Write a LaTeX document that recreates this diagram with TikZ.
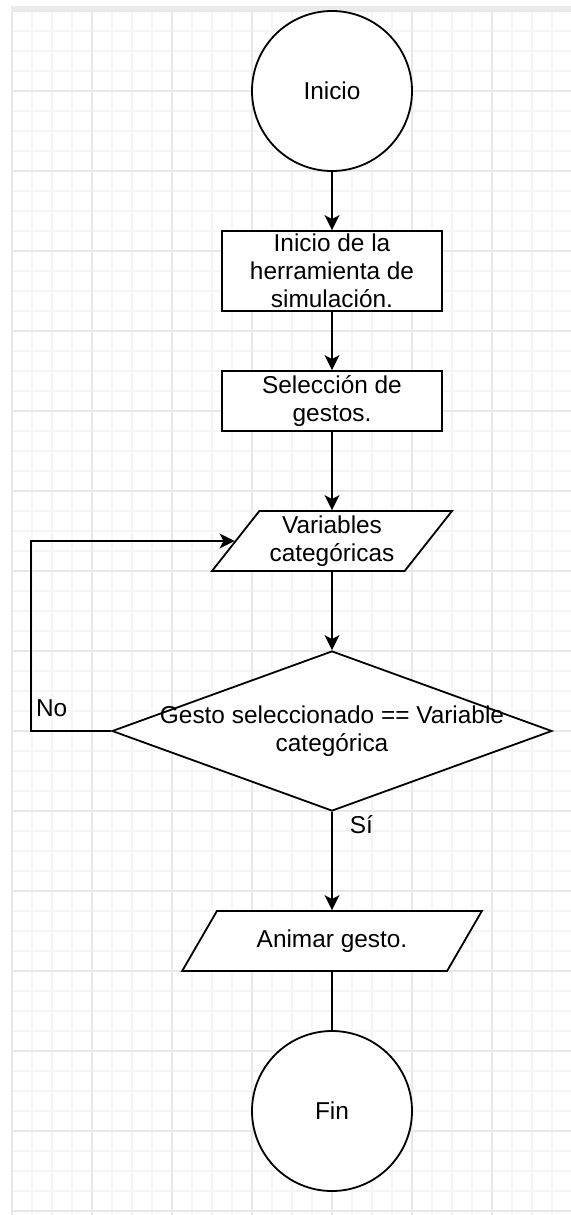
\documentclass[tikz,border=0pt]{standalone}
\usepackage{fontspec}
\setmainfont{Liberation Sans}
\usepackage{tikz}
\usepackage{xcolor}
\usetikzlibrary{arrows.meta,positioning,shapes.geometric}
\definecolor{gridminor}{HTML}{F5F5F5}
\definecolor{gridmajor}{HTML}{E8E8E8}
\definecolor{pageband}{HTML}{EBEBEB}

\begin{document}
\begin{tikzpicture}[x=0.5pt, y=-0.5pt, on grid, >={Stealth[length=7.5pt, width=7.5pt, inset=2pt]}, font=\fontsize{12.2}{14}\selectfont]
\tikzstyle{term}=[draw, circle, fill=white, line width=0.9pt, minimum size=80pt, inner sep=0pt]
\tikzstyle{box}=[draw, fill=white, line width=0.9pt, minimum width=110pt, align=center, inner sep=0pt]
\tikzstyle{io}=[draw, fill=white, line width=0.9pt, trapezium, trapezium stretches=true, minimum height=30pt, align=center, inner sep=0pt]
\tikzstyle{decision}=[draw, fill=white, line width=0.9pt, diamond, minimum width=220pt, minimum height=80pt, inner sep=0pt]
\tikzstyle{flow}=[line width=0.9pt]
% page and grid
\useasboundingbox (0,0) rectangle (571,1215);
\fill[white] (0,0) rectangle (571,1215);
\fill[pageband] (11,6) rectangle (571,10);
\begin{scope}[shift={(12,11)}]
\draw[gridminor, line width=0.7pt] (0,1204) grid[step=10pt] (560,0);
\draw[gridmajor, line width=0.8pt] (0,1204) grid[step=40pt] (560,0);
\end{scope}
% nodes
\node[term] (inicio) at (332,91) {Inicio};
\node[box, minimum height=40pt, below=90pt of inicio] (herr) {Inicio de la\\herramienta de\\simulación.};
\node[box, minimum height=30pt, below=65pt of herr] (selec) {Selección de\\gestos.};
\node[io, trapezium left angle=51.3, trapezium right angle=128.7, minimum width=120pt, below=70pt of selec] (vars) {Variables\\categóricas};
\node[decision, below=95pt of vars, label={[align=center]center:Gesto seleccionado == Variable\\categórica}] (cond) {};
\node[io, trapezium left angle=45, trapezium right angle=135, minimum width=150pt, below=105pt of cond] (anim) {Animar gesto.};
\node[term, below=85pt of anim] (fin) {Fin};
% connectors
\draw[flow, ->] (inicio) -- (herr);
\draw[flow, ->] (herr) -- (selec);
\draw[flow, ->] (selec) -- (vars);
\draw[flow, ->] (vars) -- (cond);
\draw[flow, ->] (cond) -- node[pos=0, anchor=north west, inner sep=0pt, xshift=8.5pt, yshift=-1.5pt] {Sí} (anim);
\draw[flow] (anim) -- (fin);
\draw[flow, ->] (cond.west) -- ++(-80,0) node[anchor=south west, inner xsep=2pt, inner ysep=6.5pt] {No} |- (vars);
\end{tikzpicture}
\end{document}
